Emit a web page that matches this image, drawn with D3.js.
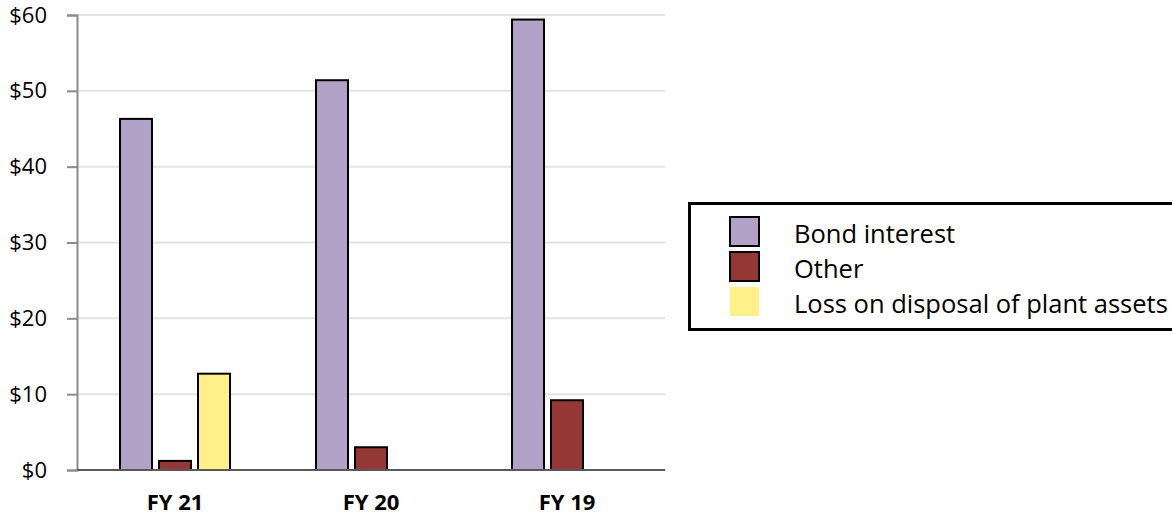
<!DOCTYPE html>
<html>
<head>
<meta charset="utf-8">
<script src="https://cdn.jsdelivr.net/npm/d3@7"></script>
<style>
  html, body { margin: 0; padding: 0; background: #fff; }
  svg { display: block; font-family: "Open Sans", "Liberation Sans", sans-serif; }
</style>
</head>
<body>
<svg id="chart" width="1172" height="515"></svg>
<script>
// Fiscal years shown along the x axis
const categories = ["FY 21", "FY 20", "FY 19"];
// Series names, in legend order
const seriesNames = ["Bond interest", "Other", "Loss on disposal of plant assets"];
// Values in $ for each fiscal year
const bondInterest = [46.3, 51.4, 59.4];
const other = [1.2, 3.0, 9.2];
const lossOnDisposal = [12.7, 0, 0];
// Y axis tick values
const yTicks = [0, 10, 20, 30, 40, 50, 60];

const seriesValues = [bondInterest, other, lossOnDisposal];
const colors = ["#b3a2c7", "#953735", "#fff08a"];

const svg = d3.select("#chart");
const margin = { left: 77, right: 507, top: 15, bottom: 45 };
const W = 1172, H = 515;

const x0 = d3.scaleBand().domain(categories).range([margin.left, W - margin.right]).padding(0);
const y = d3.scaleLinear().domain([0, 60]).range([H - margin.bottom, margin.top]);

const barW = 32, gap = 7;
const groupW = barW * 3 + gap * 2;
const x1 = d3.scaleBand().domain(d3.range(3)).range([0, groupW]).paddingInner(gap / (barW + gap));

// horizontal gridlines
svg.append("g").selectAll("line").data(yTicks.filter(d => d > 0)).join("line")
  .attr("x1", margin.left).attr("x2", W - margin.right)
  .attr("y1", d => y(d)).attr("y2", d => y(d))
  .attr("stroke", "#e3e3e3").attr("stroke-width", 2);

// y axis
const yAxis = d3.axisLeft(y).tickValues(yTicks).tickSize(10).tickFormat(d => "$" + d);
const gy = svg.append("g").attr("transform", `translate(${margin.left},0)`).call(yAxis);
gy.attr("font-size", null).attr("font-family", null);
gy.select(".domain").attr("stroke", "#8c8c8c").attr("stroke-width", 2);
gy.selectAll(".tick line").attr("stroke", "#8c8c8c").attr("stroke-width", 2);
gy.selectAll(".tick text").attr("font-size", 22).attr("fill", "#000").attr("x", -30)
  .attr("text-anchor", "end");

// bars
const groups = svg.append("g").selectAll("g").data(categories).join("g")
  .attr("transform", c => `translate(${x0(c) + x0.bandwidth() / 2 - groupW / 2},0)`);

groups.each(function(c, ci) {
  const g = d3.select(this);
  seriesValues.forEach((vals, si) => {
    const v = vals[ci];
    if (!v) return;
    g.append("rect")
      .attr("x", x1(si)).attr("width", x1.bandwidth())
      .attr("y", y(v)).attr("height", y(0) - y(v))
      .attr("fill", colors[si]).attr("stroke", "#000").attr("stroke-width", 2);
  });
});

// x axis baseline and labels
svg.append("line")
  .attr("x1", margin.left).attr("x2", W - margin.right)
  .attr("y1", y(0)).attr("y2", y(0))
  .attr("stroke", "#595959").attr("stroke-width", 2);

svg.append("g").selectAll("text").data(categories).join("text")
  .attr("x", c => x0(c) + x0.bandwidth() / 2)
  .attr("y", 510)
  .attr("text-anchor", "middle")
  .attr("font-size", 22).attr("font-weight", "bold")
  .text(c => c);

// legend
const legend = svg.append("g");
legend.append("rect")
  .attr("x", 689.5).attr("y", 203.5).attr("width", 490).attr("height", 126)
  .attr("fill", "#fff").attr("stroke", "#000").attr("stroke-width", 3);

const items = legend.selectAll("g.item").data(seriesNames).join("g").attr("class", "item")
  .attr("transform", (d, i) => `translate(0,${217 + i * 35})`);
items.append("rect")
  .attr("x", 730).attr("y", 0).attr("width", 29).attr("height", 29)
  .attr("fill", (d, i) => colors[i])
  .attr("stroke", (d, i) => i < 2 ? "#000" : "none").attr("stroke-width", 2);
items.append("text")
  .attr("x", 794).attr("y", 26)
  .attr("font-size", 25.5).attr("fill", "#000")
  .text(d => d);
</script>
</body>
</html>
